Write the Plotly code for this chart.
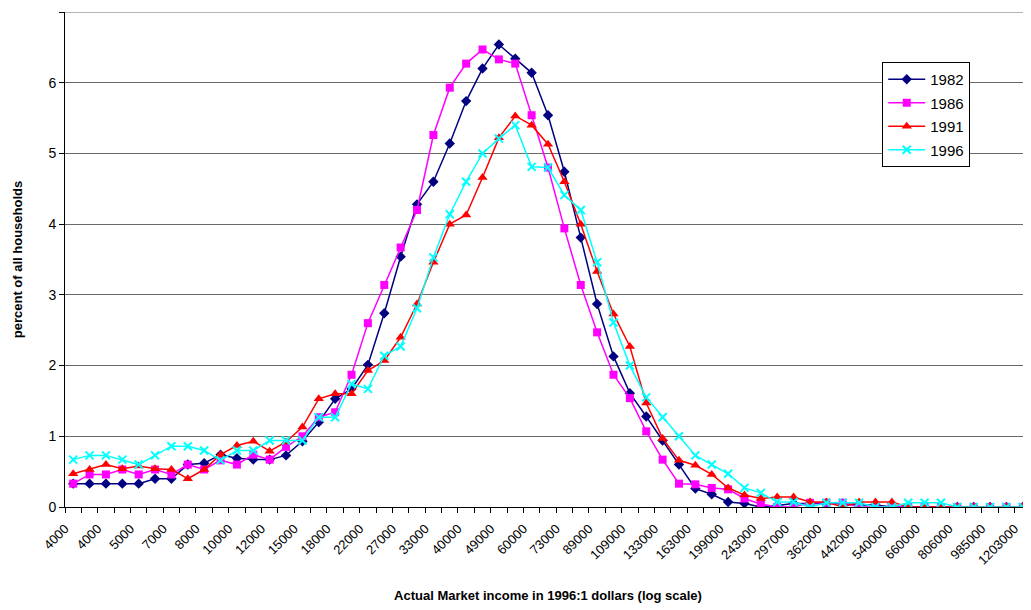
import plotly.graph_objects as go

# カテゴリ(所得階級, 対数目盛) 59区分, ラベルは1区分おき
income_labels = ['4000', '4000', '5000', '7000', '8000', '10000', '12000', '15000',
                 '18000', '22000', '27000', '33000', '40000', '49000', '60000',
                 '73000', '89000', '109000', '133000', '163000', '199000', '243000',
                 '297000', '362000', '442000', '540000', '660000', '806000',
                 '985000', '1203000']

y_1982 = [0.33, 0.33, 0.33, 0.33, 0.33, 0.40, 0.40, 0.60, 0.62, 0.74,
          0.69, 0.67, 0.67, 0.73, 0.93, 1.20, 1.53, 1.67, 2.01, 2.74,
          3.54, 4.28, 4.60, 5.14, 5.74, 6.20, 6.54, 6.34, 6.14, 5.54,
          4.74, 3.81, 2.87, 2.13, 1.61, 1.28, 0.94, 0.60, 0.26, 0.18,
          0.07, 0.05, 0.00, 0.02, 0.05, 0.05, 0.05, 0.05, 0.03, 0.03,
          0.00, 0.00, 0.00, 0.00, 0.00, 0.00, 0.00, 0.00, 0.00]
y_1986 = [0.33, 0.46, 0.46, 0.53, 0.46, 0.53, 0.46, 0.60, 0.53, 0.66,
          0.60, 0.74, 0.67, 0.85, 1.00, 1.27, 1.34, 1.87, 2.60, 3.14,
          3.67, 4.20, 5.26, 5.93, 6.27, 6.47, 6.33, 6.27, 5.54, 4.80,
          3.94, 3.14, 2.47, 1.87, 1.54, 1.07, 0.67, 0.33, 0.32, 0.27,
          0.25, 0.12, 0.04, 0.00, 0.00, 0.06, 0.06, 0.06, 0.00, 0.00,
          0.00, 0.00, 0.00, 0.00, 0.00, 0.00, 0.00, 0.00, 0.00]
y_1991 = [0.47, 0.53, 0.60, 0.54, 0.58, 0.54, 0.53, 0.40, 0.53, 0.74,
          0.87, 0.93, 0.79, 0.92, 1.13, 1.53, 1.60, 1.60, 1.93, 2.07,
          2.40, 2.87, 3.46, 4.00, 4.13, 4.66, 5.22, 5.53, 5.40, 5.13,
          4.60, 4.00, 3.33, 2.73, 2.27, 1.47, 0.97, 0.66, 0.59, 0.46,
          0.27, 0.17, 0.12, 0.14, 0.14, 0.07, 0.07, 0.00, 0.07, 0.07,
          0.07, 0.00, 0.00, 0.00, 0.00, 0.00, 0.00, 0.00, 0.00]
y_1996 = [0.67, 0.73, 0.73, 0.67, 0.60, 0.73, 0.86, 0.86, 0.80, 0.66,
          0.80, 0.80, 0.94, 0.94, 0.94, 1.27, 1.27, 1.74, 1.67, 2.14,
          2.27, 2.81, 3.53, 4.14, 4.60, 5.00, 5.21, 5.40, 4.81, 4.80,
          4.41, 4.20, 3.46, 2.61, 2.00, 1.55, 1.27, 1.00, 0.73, 0.60,
          0.47, 0.27, 0.20, 0.07, 0.07, 0.00, 0.06, 0.06, 0.06, 0.00,
          0.00, 0.06, 0.06, 0.06, 0.00, 0.00, 0.00, 0.00, 0.00]

series = [
    ('1982', y_1982, '#000080', 'diamond',     8),
    ('1986', y_1986, '#FF00FF', 'square',      8),
    ('1991', y_1991, '#FF0000', 'triangle-up', 9),
    ('1996', y_1996, '#00FFFF', 'x-thin',      8),
]

x_idx = list(range(len(y_1982)))

fig = go.Figure()
for name, vals, color, symbol, size in series:
    marker = {'symbol': symbol, 'size': size, 'color': color}
    if symbol == 'x-thin':
        marker['line'] = {'color': color, 'width': 2}
    fig.add_trace(go.Scatter(
        x           = x_idx,
        y           = vals,
        name        = name,
        legendgroup = name,
        mode        = 'lines+markers',
        line        = {'color': color, 'width': 1.5},
        marker      = marker,
    ))

font_family = 'Arial, "Liberation Sans", sans-serif'
text_color  = 'black'
grid_color  = '#6a6a6a'

# ベース設定 (ページ本体の余白8pxぶんを差し引く)
fig.update_layout(
    width         = 1023,
    height        = 602,
    font          = {'family': font_family, 'size': 13, 'color': text_color},
    plot_bgcolor  = 'white',
    paper_bgcolor = 'white',
    margin        = {'t': 4, 'b': 103, 'l': 57, 'r': 0},
)

# 最上段(7)の目盛線
fig.add_shape(type='line', xref='paper', x0=0, x1=1, yref='y', y0=7, y1=7,
              line={'color': grid_color, 'width': 1}, layer='below')

# 凡例
fig.update_layout(
    showlegend = True,
    legend     = {
        'x':              0.846,
        'y':              0.899,
        'xanchor':        'left',
        'yanchor':        'top',
        'bgcolor':        'white',
        'bordercolor':    'black',
        'borderwidth':    1,
        'font':           {'size': 15},
        'itemwidth':      37,
        'traceorder':     'grouped',
        'tracegroupgap':  1,
    }
)

# 軸 (ラベルは区分の左端に置いて少し左下へ寄せる)
fig.update_xaxes(
    range      = [-0.5, len(x_idx) - 0.5],
    tickmode   = 'array',
    tickvals   = [i - 0.5 for i in x_idx[::2]],
    ticktext   = income_labels,
    tickangle  = -45,
    tickfont   = {'size': 13},
    ticks      = '',
    ticklabelstandoff = 8,
    showgrid   = False,
    zeroline   = False,
    showline   = True,
    linecolor  = 'black',
    linewidth  = 1,
    minor      = {'ticks': 'outside', 'tick0': -0.5, 'dtick': 1,
                  'ticklen': 5, 'tickcolor': 'black', 'showgrid': False},
    title      = {'text': '<b>Actual Market income in 1996:1 dollars (log scale)</b>',
                  'font': {'size': 13}, 'standoff': 24},
    automargin = False,
)
fig.update_yaxes(
    range      = [0, 7],
    dtick      = 1,
    ticks      = 'outside',
    ticklen    = 5,
    tickcolor  = 'black',
    tickfont   = {'size': 14},
    showgrid   = True,
    gridcolor  = grid_color,
    gridwidth  = 1,
    zeroline   = False,
    showline   = True,
    linecolor  = 'black',
    linewidth  = 1,
    title      = {'text': '<b>percent of all households</b>',
                  'font': {'size': 13}, 'standoff': 22},
    automargin = False,
)

fig.write_html("out.html")
